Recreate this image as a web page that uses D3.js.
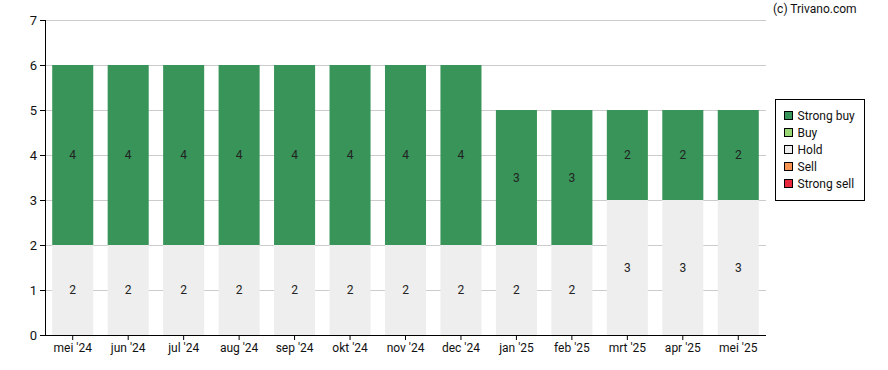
<!DOCTYPE html>
<html>
<head>
<meta charset="utf-8">
<script src="https://cdn.jsdelivr.net/npm/d3@7"></script>
<style>
body { margin: 0; background: #fff; }
svg { font-family: Roboto, "Noto Sans", sans-serif; }
</style>
</head>
<body>
<div id="chart"></div>
<script>
const FRAME_WIDTH = 888;
const FRAME_HEIGHT = 370;
const MARGINS = {left: 45, right: 122, top: 20, bottom: 35};
const VIS_WIDTH = FRAME_WIDTH - MARGINS.left - MARGINS.right;
const VIS_HEIGHT = FRAME_HEIGHT - MARGINS.top - MARGINS.bottom;

const months = ["mei '24", "jun '24", "jul '24", "aug '24", "sep '24", "okt '24", "nov '24",
                "dec '24", "jan '25", "feb '25", "mrt '25", "apr '25", "mei '25"];
const strongSell = [0, 0, 0, 0, 0, 0, 0, 0, 0, 0, 0, 0, 0];
const sell       = [0, 0, 0, 0, 0, 0, 0, 0, 0, 0, 0, 0, 0];
const hold       = [2, 2, 2, 2, 2, 2, 2, 2, 2, 2, 3, 3, 3];
const buy        = [0, 0, 0, 0, 0, 0, 0, 0, 0, 0, 0, 0, 0];
const strongBuy  = [4, 4, 4, 4, 4, 4, 4, 4, 3, 3, 2, 2, 2];
const yTicks = [0, 1, 2, 3, 4, 5, 6, 7];

const seriesNames = ["Strong sell", "Sell", "Hold", "Buy", "Strong buy"];
const seriesColors = ["#e8283c", "#f79454", "#eeeeee", "#99d774", "#389458"];
const seriesValues = [strongSell, sell, hold, buy, strongBuy];

const rows = months.map((m, i) => {
  const r = {month: m};
  seriesNames.forEach((s, j) => { r[s] = seriesValues[j][i]; });
  return r;
});

const stacked = d3.stack().keys(seriesNames)(rows);

const svg = d3.select("#chart").append("svg")
  .attr("width", FRAME_WIDTH)
  .attr("height", FRAME_HEIGHT);

const X_SCALE = d3.scaleBand().domain(months).range([0, VIS_WIDTH]).paddingInner(0.26).paddingOuter(0.13);
const Y_SCALE = d3.scaleLinear().domain([0, 7]).range([VIS_HEIGHT, 0]);

const g = svg.append("g").attr("transform", "translate(" + MARGINS.left + "," + MARGINS.top + ")");

// gridlines
g.selectAll(".grid").data(yTicks).enter().append("line")
  .attr("x1", 0).attr("x2", VIS_WIDTH)
  .attr("y1", d => Y_SCALE(d) + 0.5).attr("y2", d => Y_SCALE(d) + 0.5)
  .attr("stroke", "#cccccc");

// bars
const layers = g.selectAll(".layer").data(stacked).enter().append("g")
  .attr("fill", (d, i) => seriesColors[i]);

layers.selectAll("rect").data(d => d).enter().append("rect")
  .attr("x", d => X_SCALE(d.data.month))
  .attr("width", X_SCALE.bandwidth())
  .attr("y", d => Y_SCALE(d[1]))
  .attr("height", d => Y_SCALE(d[0]) - Y_SCALE(d[1]));

// value labels
layers.selectAll("text").data(d => d.filter(v => v[1] - v[0] > 0)).enter().append("text")
  .attr("x", d => X_SCALE(d.data.month) + X_SCALE.bandwidth() / 2)
  .attr("y", d => Y_SCALE((d[0] + d[1]) / 2))
  .attr("dy", "0.35em")
  .attr("text-anchor", "middle")
  .attr("fill", "#222")
  .attr("font-size", "12px")
  .text(d => d[1] - d[0]);

// axes
const yAxis = g.append("g")
  .call(d3.axisLeft(Y_SCALE).tickValues(yTicks).tickSize(5).tickPadding(3).tickFormat(d3.format("d")));
yAxis.selectAll("text").attr("font-size", "13px").attr("fill", "#111").attr("font-family", "Roboto");
yAxis.select(".domain").attr("d", "M0.5,0V" + VIS_HEIGHT);

const xAxis = g.append("g")
  .attr("transform", "translate(0," + VIS_HEIGHT + ")")
  .call(d3.axisBottom(X_SCALE).tickSize(5).tickPadding(3));
xAxis.selectAll("text").attr("font-size", "12px").attr("fill", "#111").attr("font-family", "Roboto");
xAxis.select(".domain").attr("d", "M0," + 0.5 + "H" + VIS_WIDTH);

// watermark
svg.append("text")
  .attr("x", 773).attr("y", 13)
  .attr("font-size", "12px").attr("fill", "#111")
  .text("(c) Trivano.com");

// legend
const legend = svg.append("g").attr("transform", "translate(775.5,99.5)");
legend.append("rect").attr("width", 89).attr("height", 101)
  .attr("fill", "#fff").attr("stroke", "#000");

const legendOrder = seriesNames.slice().reverse();
const legendColors = seriesColors.slice().reverse();
const items = legend.selectAll(".item").data(legendOrder).enter().append("g")
  .attr("transform", (d, i) => "translate(9," + (12 + i * 17) + ")");
items.append("rect").attr("width", 8).attr("height", 8)
  .attr("fill", (d, i) => legendColors[i]).attr("stroke", "#000");
items.append("text").attr("x", 13).attr("y", 4).attr("dy", "0.35em")
  .attr("font-size", "12px").attr("fill", "#111")
  .text(d => d);
</script>
</body>
</html>
